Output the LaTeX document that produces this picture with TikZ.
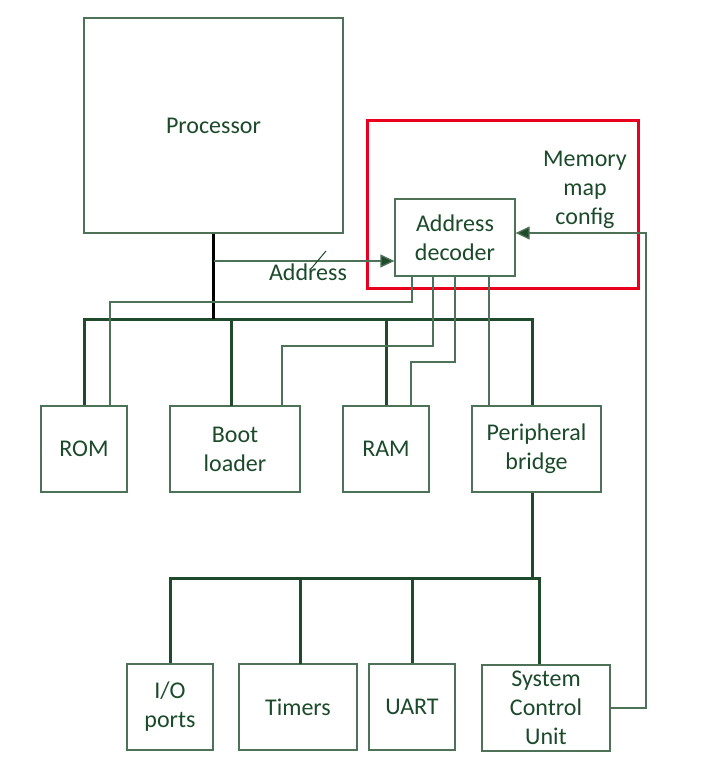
\documentclass[tikz,border=0pt]{standalone}
\usepackage{fontspec}
\setmainfont{Carlito}
\usetikzlibrary{arrows.meta}
\definecolor{txtc}{HTML}{1B4A2A}
\definecolor{linec}{HTML}{4E7257}
\definecolor{busc}{HTML}{1F4A2C}
\definecolor{redc}{HTML}{E8001E}
\begin{document}
\begin{tikzpicture}[x=1pt,y=-1pt,
  box/.style={draw=linec, line width=1.3pt, text=txtc, align=center, inner sep=0pt,
    font=\fontsize{24}{29}\selectfont, minimum height=86pt},
  lbl/.style={text=txtc, align=center, inner sep=0pt, font=\fontsize{24}{29}\selectfont},
  sig/.style={draw=linec, line width=1.3pt},
  bus/.style={draw=busc, line width=3pt},
  procbus/.style={draw=black, line width=3pt},
  tip/.style={-{Triangle[length=14pt,width=13pt,fill=busc]}}]
\useasboundingbox (0,0) rectangle (708,773);

% red frame
\node[draw=redc, line width=3pt, minimum width=271pt, minimum height=167pt, inner sep=0pt] (redbox) at (502.5,204.5) {};

% boxes
\node[box, minimum width=259pt, minimum height=215pt] (proc) at (213.5,125.5) {};
\node[lbl] (proctxt) at (213.5,126) {Processor};
\node[box, minimum width=120pt, minimum height=77pt] (dec) at (455,237.5) {Address\\decoder};
\node[lbl] (mmc) at (585,190) {Memory\\map\\config};

\node[box, minimum width=86pt] (rom) at (84,449) {ROM};
\node[box, minimum width=130pt] (boot) at (235,449) {Boot\\loader};
\node[box, minimum width=86pt] (ram) at (386,449) {RAM};
\node[box, minimum width=129pt] (pb) at (536.5,449) {Peripheral\\bridge};

\node[box, minimum width=86pt] (io) at (170,707) {I/O\\ports};
\node[box, minimum width=118pt] (tim) at (298,707) {Timers};
\node[box, minimum width=86pt] (uart) at (412,707) {UART};
\node[box, minimum width=128pt] (scu) at (546,708) {System\\Control\\Unit};

% main bus
\coordinate (b1l) at (84,319);
\coordinate (b1r) at (532,319);
\draw[bus] (rom.north) -- (b1l) -- (b1r) -- (b1r |- pb.north);
\coordinate (bootd) at (231,406);
\draw[bus] (bootd) -- (bootd |- b1l);
\draw[bus] (ram.north) -- (ram.north |- b1l);
\draw[procbus] (proc.south) -- (proc.south |- b1l);

% address
\coordinate (addr) at (213.5,261);
\draw[sig, tip] (addr) -- (addr -| dec.west);
\draw[draw=txtc, line width=1pt] (310,270) -- (326,251);
\node[lbl] (addrlbl) at (308,272) {Address};

% decoder select lines
\coordinate (d1) at (412,276);
\coordinate (d2) at (433,276);
\coordinate (d3) at (455,276);
\coordinate (d4) at (489,276);
\draw[sig] (d1) -- (d1 |- 0,302) -| ([xshift=26pt]rom.north);
\draw[sig] (d2) -- (d2 |- 0,346) -| ([xshift=47pt]boot.north);
\draw[sig] (d3) -- (d3 |- 0,362) -| ([xshift=25pt]ram.north);
\draw[sig] (d4) -- (d4 |- pb.north);

% peripheral bus
\coordinate (b2l) at (170,578);
\coordinate (b2r) at (539,578);
\draw[bus] ([xshift=-4.5pt]pb.south) -- ([xshift=-4.5pt]pb.south |- b2l);
\draw[bus] (io.north) -- (b2l) -- (b2r) -- (b2r |- scu.north);
\coordinate (timd) at (300,664);
\draw[bus] (timd) -- (timd |- b2l);
\draw[bus] (uart.north) -- (uart.north |- b2l);

% memory map config
\coordinate (mc) at (646,233);
\draw[sig, tip] (scu.east) -| (mc) -- (mc -| dec.east);
\end{tikzpicture}
\end{document}
